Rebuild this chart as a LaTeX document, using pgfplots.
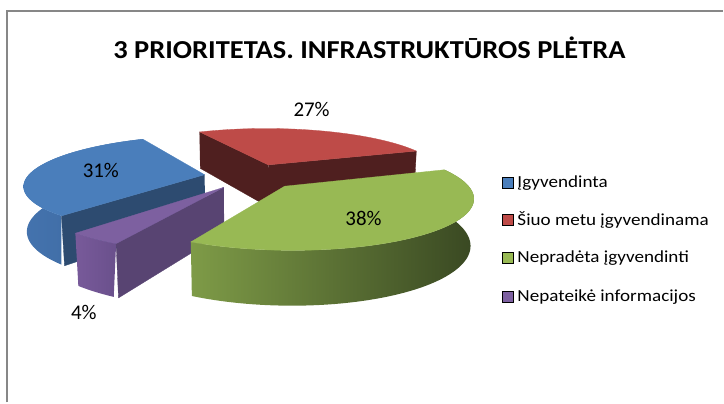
\documentclass[border=0pt]{standalone}
\usepackage{fontspec}
\setmainfont{Carlito}
\usepackage{pgfplots}
\pgfplotsset{compat=1.18}

\definecolor{bTop}{HTML}{4A7EBB}
\definecolor{bSideL}{HTML}{4473AE}
\definecolor{bSideR}{HTML}{3B669B}
\definecolor{bCut}{HTML}{2D4B70}
\definecolor{rTop}{HTML}{BE4B48}
\definecolor{rCut}{HTML}{4F1F1F}
\definecolor{gTop}{HTML}{98B954}
\definecolor{gSideL}{HTML}{7E9B47}
\definecolor{gSideR}{HTML}{394822}
\definecolor{pTop}{HTML}{7D60A0}
\definecolor{pSideL}{HTML}{785A9A}
\definecolor{pSideR}{HTML}{6A508C}
\definecolor{pCut}{HTML}{584472}
\definecolor{frameC}{HTML}{878787}

% data (percent)
\def\vBlue{31}\def\vRed{27}\def\vGreen{38}\def\vPurple{4}

% projection parameters (pixel coordinates)
\def\pcx{252}\def\pcy{176.5}\def\pF{885}\def\pD{5}
\def\pse{0.268}\def\pce{0.964}\def\pH{0.26}\def\pex{0.27}
\def\rot{20}

\newcommand\PX[3]{(\pcx+\pF*(#1)/(\pD+(#2)*\pce-(#3)*\pse))}
\newcommand\PY[3]{(\pcy-\pF*((#2)*\pse+(#3)*\pce)/(\pD+(#2)*\pce-(#3)*\pse))}

\pgfmathsetmacro\rA{\rot}
\pgfmathsetmacro\rB{\rA+3.6*\vRed}
\pgfmathsetmacro\bA{\rB}
\pgfmathsetmacro\bB{\bA+3.6*\vBlue}
\pgfmathsetmacro\pA{\bB}
\pgfmathsetmacro\pB{\pA+3.6*\vPurple}
\pgfmathsetmacro\gA{\pB}
\pgfmathsetmacro\gB{\gA+3.6*\vGreen}
\pgfmathsetmacro\rOx{\pex*cos((\rA+\rB)/2)}\pgfmathsetmacro\rOy{\pex*sin((\rA+\rB)/2)}
\pgfmathsetmacro\bOx{\pex*cos((\bA+\bB)/2)}\pgfmathsetmacro\bOy{\pex*sin((\bA+\bB)/2)}
\pgfmathsetmacro\pOx{\pex*cos((\pA+\pB)/2)}\pgfmathsetmacro\pOy{\pex*sin((\pA+\pB)/2)}
\pgfmathsetmacro\gOx{\pex*cos((\gA+\gB)/2)}\pgfmathsetmacro\gOy{\pex*sin((\gA+\gB)/2)}

\newcommand\topface[5]{%
  \pgfmathsetmacro\zTm{#1-1}%
  \pgfmathsetmacro\zTq{#1+1.5}%
  \pgfmathsetmacro\zTp{#2+1}%
  \edef\doit{\noexpand\addplot[fill=#5,draw=#5,line width=0.3pt,samples at={\zTm,#1,\zTq,...,#2,#2,\zTp}]
   ({\PX{#3+(x>(#1-0.5))*(x<(#2+0.5))*cos(max(#1,min(#2,x)))}{#4+(x>(#1-0.5))*(x<(#2+0.5))*sin(max(#1,min(#2,x)))}{0}},
    {\PY{#3+(x>(#1-0.5))*(x<(#2+0.5))*cos(max(#1,min(#2,x)))}{#4+(x>(#1-0.5))*(x<(#2+0.5))*sin(max(#1,min(#2,x)))}{0}});}%
  \doit}

\newcommand\radface[4]{%
  \edef\doit{\noexpand\addplot[fill=#4,draw=#4,line width=0.3pt,samples at={0,1,2,3}]
   ({\PX{#2+cos(#1)*(x>0.5)*(x<2.5)}{#3+sin(#1)*(x>0.5)*(x<2.5)}{-\pH*(x>1.5)}},
    {\PY{#2+cos(#1)*(x>0.5)*(x<2.5)}{#3+sin(#1)*(x>0.5)*(x<2.5)}{-\pH*(x>1.5)}});}%
  \doit}

\newcommand\band[5]{%
  \pgfmathsetmacro\zBq{#1+1.5}%
  \pgfmathsetmacro\zBe{#2+0.001}%
  \pgfmathsetmacro\zBeq{#2+1.501}%
  \pgfmathsetmacro\zBend{2*#2-#1}%
  \edef\doit{\noexpand\addplot[#5,samples at={#1,\zBq,...,#2,#2,\zBe,\zBeq,...,\zBend,\zBend}]
   ({\PX{#3+cos(min(x,2*#2-x))}{#4+sin(min(x,2*#2-x))}{-\pH*(x>#2)}},
    {\PY{#3+cos(min(x,2*#2-x))}{#4+sin(min(x,2*#2-x))}{-\pH*(x>#2)}});}%
  \doit}

\newcommand\lfont{\fontsize{17}{17}\selectfont}

\begin{document}
\begin{tikzpicture}
\begin{axis}[width=724bp,height=403bp,scale only axis,
  xmin=0,xmax=724,ymin=0,ymax=403,y dir=reverse,hide axis,clip=false]
\path (axis cs:0,0) rectangle (axis cs:724,403);
\addplot[frameC,line width=2bp] coordinates {(7,403) (7,11) (724,11)};

% red slice
\radface{\rA}{\rOx}{\rOy}{rCut}
\radface{\rB}{\rOx}{\rOy}{rCut}
\topface{\rA}{\rB}{\rOx}{\rOy}{rTop}
% blue slice
\band{\bA}{\bB}{\bOx}{\bOy}{left color=bSideL,right color=bSideR,draw=none}
\radface{\bB}{\bOx}{\bOy}{bCut}
\topface{\bA}{\bB}{\bOx}{\bOy}{bTop}
% purple slice
\band{\pA}{\pB}{\pOx}{\pOy}{left color=pSideL,right color=pSideR,draw=none}
\radface{\pB}{\pOx}{\pOy}{pCut}
\topface{\pA}{\pB}{\pOx}{\pOy}{pTop}
% green slice
\band{\gA}{\gB}{\gOx}{\gOy}{left color=gSideL,right color=gSideR,draw=none}
\topface{\gA}{\gB}{\gOx}{\gOy}{gTop}

% data labels
\node[font=\fontsize{21}{21}\selectfont] at (axis cs:101,171) {31\%};
\node[font=\fontsize{21}{21}\selectfont] at (axis cs:312,110) {27\%};
\node[font=\fontsize{21}{21}\selectfont] at (axis cs:364,219) {38\%};
\node[font=\fontsize{21}{21}\selectfont] at (axis cs:84,313) {4\%};

% title
\node[font=\bfseries\fontsize{26}{26}\selectfont] at (axis cs:370,48) {\scalebox{1.1}[1]{3 PRIORITETAS. INFRASTRUKTŪROS PLĖTRA}};

% legend
\addplot[only marks,mark=square*,mark size=5.5bp,mark options={fill=bTop,draw=none}] coordinates {(508.5,183)};
\addplot[only marks,mark=square*,mark size=5.5bp,mark options={fill=rTop,draw=none}] coordinates {(508.5,220)};
\addplot[only marks,mark=square*,mark size=5.5bp,mark options={fill=gTop,draw=none}] coordinates {(508.5,258)};
\addplot[only marks,mark=square*,mark size=5.5bp,mark options={fill=pTop,draw=none}] coordinates {(508.5,297)};
\node[anchor=west,inner sep=0pt,font=\lfont] at (axis cs:518,183) {\scalebox{1.13}[1]{Įgyvendinta}};
\node[anchor=west,inner sep=0pt,font=\lfont] at (axis cs:518,220) {\scalebox{1.13}[1]{Šiuo metu įgyvendinama}};
\node[anchor=west,inner sep=0pt,font=\lfont] at (axis cs:518,258) {\scalebox{1.13}[1]{Nepradėta įgyvendinti}};
\node[anchor=west,inner sep=0pt,font=\lfont] at (axis cs:518,297) {\scalebox{1.13}[1]{Nepateikė informacijos}};
\end{axis}
\end{tikzpicture}
\end{document}
